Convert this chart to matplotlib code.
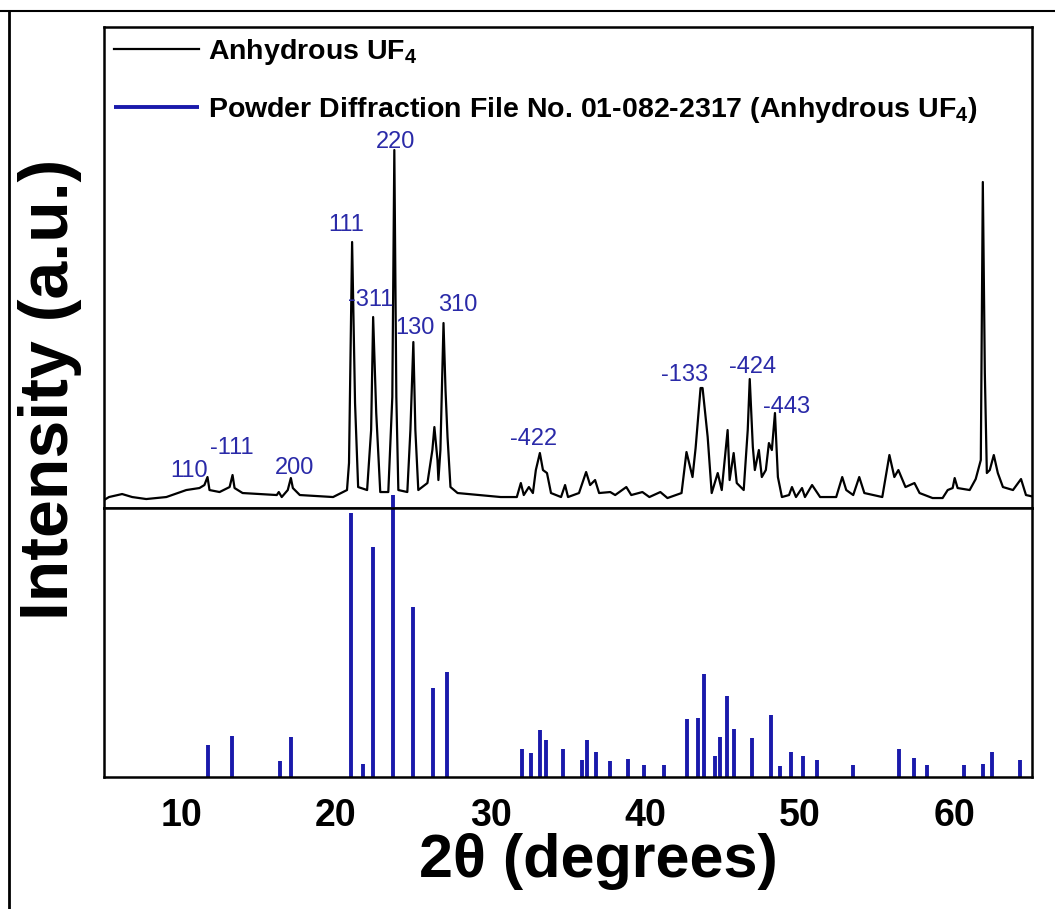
import matplotlib
matplotlib.use("Agg")
import matplotlib.pyplot as plt
from matplotlib.lines import Line2D

plt.rcParams['font.family'] = ['Liberation Sans', 'DejaVu Sans']
plt.rcParams['mathtext.fontset'] = 'custom'
plt.rcParams['mathtext.rm'] = 'Liberation Sans'
plt.rcParams['mathtext.bf'] = 'Liberation Sans:bold'

# ---- measured pattern (2theta in degrees, intensity a.u.) ----
two_theta = [5.00, 5.32, 6.17, 6.82, 7.73, 9.03, 10.32, 11.17, 11.49, 11.69, 11.82, 12.47,
             13.12, 13.31, 13.44, 13.96, 16.17, 16.30, 16.49, 16.88, 17.08, 17.21, 17.66,
             19.81, 20.71, 20.84, 21.04, 21.23, 21.43, 22.01, 22.27, 22.40, 22.60, 22.86,
             23.38, 23.64, 23.77, 23.90, 24.03, 24.61, 24.81, 25.00, 25.13, 25.32, 25.91,
             26.23, 26.36, 26.56, 26.62, 26.75, 26.95, 27.08, 27.21, 27.40, 27.86, 30.65,
             31.69, 31.95, 32.14, 32.47, 32.73, 32.92, 33.18, 33.38, 33.64, 33.90, 34.55,
             34.81, 35.00, 35.71, 36.17, 36.43, 36.75, 37.01, 37.73, 38.05, 38.77, 39.09,
             39.81, 40.26, 40.97, 41.43, 42.34, 42.66, 43.05, 43.25, 43.57, 43.70, 44.03,
             44.29, 44.68, 44.94, 45.32, 45.45, 45.71, 45.91, 46.36, 46.62, 46.75, 46.95,
             47.08, 47.34, 47.53, 47.79, 47.99, 48.18, 48.38, 48.57, 48.83, 49.29, 49.48,
             49.74, 50.13, 50.32, 50.78, 51.30, 52.34, 52.73, 52.99, 53.44, 53.83, 54.16,
             55.32, 55.78, 56.10, 56.36, 56.82, 57.40, 57.73, 58.57, 59.22, 59.55, 59.87,
             60.00, 60.19, 60.97, 61.36, 61.69, 61.82, 61.95, 62.08, 62.27, 62.53, 62.79,
             63.12, 63.77, 64.29, 64.61, 65.19]
intensity = [8, 11, 14, 11, 9, 11, 18, 20, 23, 31, 18, 16,
             21, 33, 20, 15, 13, 16, 11, 18, 30, 20, 13,
             11, 18, 45, 266, 105, 21, 18, 78, 191, 95, 16,
             16, 111, 358, 111, 18, 16, 78, 166, 78, 18, 25,
             58, 81, 48, 28, 58, 185, 118, 71, 21, 15, 11,
             11, 25, 13, 21, 15, 38, 55, 38, 35, 15, 11,
             23, 11, 15, 36, 23, 28, 15, 16, 13, 21, 13,
             16, 11, 16, 10, 15, 56, 31, 60, 120, 120, 71,
             15, 35, 18, 78, 28, 55, 25, 18, 78, 129, 61,
             38, 58, 31, 38, 65, 58, 95, 31, 11, 13, 21,
             11, 20, 11, 23, 11, 11, 31, 18, 13, 31, 15,
             11, 53, 31, 38, 21, 25, 15, 10, 10, 18, 20,
             30, 20, 18, 29, 48, 326, 135, 35, 38, 53, 35,
             21, 18, 29, 13, 11]

# ---- hkl annotations ----
hkl_labels = ['110', '-111', '200', '111', '-311', '220', '130', '310',
              '-422', '-133', '-424', '-443']
hkl_x = [10.52, 13.25, 17.34, 20.65, 22.27, 23.83, 25.13, 27.86,
         32.79, 42.53, 46.95, 49.16]
hkl_y = [37, 60, 40, 283, 208, 366, 180, 203, 69, 133, 141, 101]

# ---- reference pattern PDF 01-082-2317 (relative intensity) ----
ref_pos = [11.7, 13.3, 16.4, 17.1, 21.0, 21.75, 22.4, 23.7, 25.0, 26.3, 27.2,
           32.0, 32.6, 33.2, 33.6, 34.7, 35.9, 36.2, 36.8, 37.7, 38.9, 39.9,
           41.2, 42.7, 43.4, 43.8, 44.5, 44.8, 45.3, 45.7, 46.9, 48.1, 48.7,
           49.4, 50.2, 51.1, 53.4, 56.4, 57.4, 58.2, 60.6, 61.8, 62.4, 64.2]
ref_int = [11.5, 14.7, 5.6, 14.3, 93.8, 4.7, 81.7, 100, 60.4, 31.6, 37.3,
           9.8, 8.6, 16.8, 13.3, 10.0, 5.9, 13.0, 8.9, 5.7, 6.4, 4.1,
           4.1, 20.5, 20.9, 36.4, 7.3, 14.2, 28.6, 17.2, 14.0, 21.9, 3.8,
           8.9, 7.3, 6.2, 4.1, 10.1, 6.9, 4.4, 4.4, 4.7, 8.9, 5.9]

xticks = [10, 20, 30, 40, 50, 60]

BLUE = '#1a1aab'
LBLUE = '#2a2aa8'

fig = plt.figure(figsize=(10.55, 9.09), dpi=100)
ax1 = fig.add_axes([0.0986, 0.4411, 0.8796, 0.5292])
ax2 = fig.add_axes([0.0986, 0.1452, 0.8796, 0.2959], sharex=ax1)

line, = ax1.plot(two_theta, intensity, color='black', lw=1.6,
                 label=r'Anhydrous UF$_\mathbf{4}$')
for s, x, y in zip(hkl_labels, hkl_x, hkl_y):
    ax1.text(x, y, s, ha='center', va='center', color=LBLUE, fontsize=17)
ax1.set_ylim(0, 481)
ax1.set_xlim(5, 65)

sticks = ax2.vlines(ref_pos, 0, ref_int, color=BLUE, lw=2.8, clip_on=False,
                    label=r'Powder Diffraction File No. 01-082-2317 (Anhydrous UF$_\mathbf{4}$)')
ax2.set_ylim(0, 95.4)

for ax in (ax1, ax2):
    ax.set_yticks([])
    for sp in ax.spines.values():
        sp.set_linewidth(1.8)
ax1.tick_params(axis='x', length=0, labelbottom=False)
ax2.set_xticks(xticks)
ax2.tick_params(axis='x', length=0, pad=15, labelsize=27)
for t in ax2.get_xticklabels():
    t.set_fontweight('bold')

ax2.set_xlabel('2θ (degrees)', fontsize=44, fontweight='bold')
ax2.xaxis.set_label_coords(0.533, -0.21)
fig.text(0.047, 0.572, 'Intensity (a.u.)', rotation=90, ha='center', va='center',
         fontsize=49, fontweight='bold')

leg = ax1.legend(handles=[line, sticks], loc='upper left', bbox_to_anchor=(0.0, 1.0),
                 frameon=False, prop={'weight': 'bold', 'size': 20.5},
                 handlelength=3.0, handletextpad=0.3, labelspacing=1.0,
                 borderaxespad=0.25, borderpad=0.1)

# outer page frame
fig.add_artist(Line2D([0.0, 1.0], [1 - 11 / 909, 1 - 11 / 909], color='black', lw=1.5,
                      transform=fig.transFigure))
fig.add_artist(Line2D([9 / 1055, 9 / 1055], [0.0, 1 - 11 / 909], color='black', lw=2.0,
                      transform=fig.transFigure))

fig.savefig('out.png', dpi=100)
